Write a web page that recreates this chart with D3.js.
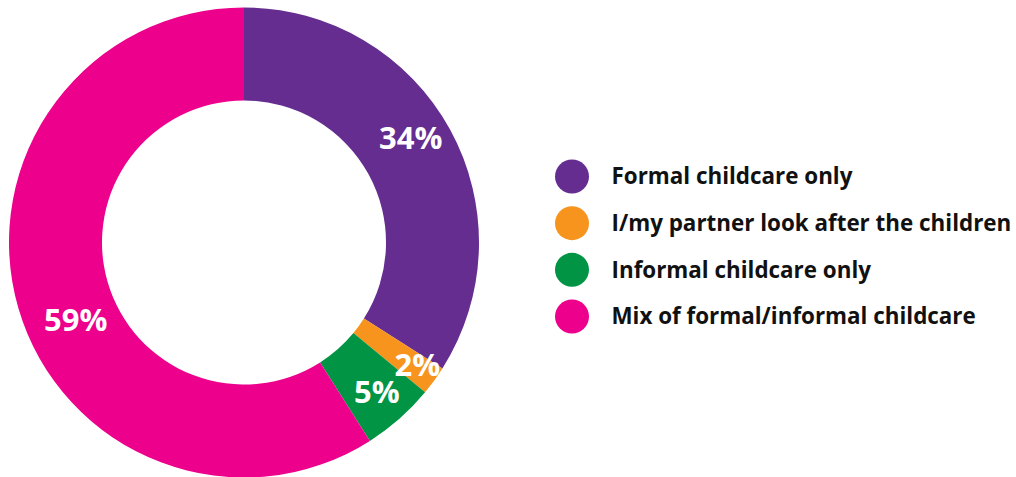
<!DOCTYPE html>
<html>
<head>
<meta charset="utf-8">
<script src="https://cdn.jsdelivr.net/npm/d3@7"></script>
<style>
  html, body { margin: 0; padding: 0; background: #fff; }
  svg { display: block; }
</style>
</head>
<body>
<svg id="chart" width="1016" height="477"></svg>
<script>
// Childcare arrangements, share of respondents (%)
const categories = [
  "Formal childcare only",
  "I/my partner look after the children",
  "Informal childcare only",
  "Mix of formal/informal childcare"
];
const values = [34, 2, 5, 59];
const colors = ["#652d90", "#f7941d", "#009444", "#ec008c"];

const svg = d3.select("#chart");

const cx = 244, cy = 242.5;
const outerR = 235, innerR = 142;

const data = categories.map((c, i) => ({ category: c, value: values[i], color: colors[i] }));

const pie = d3.pie().value(d => d.value).sort(null);
const arcs = pie(data);

const arc = d3.arc().innerRadius(innerR).outerRadius(outerR);

// Hand placement of the percentage labels: radius and a small angular
// nudge (degrees) away from each slice's mid-angle.
const labelPlacement = {
  "Formal childcare only":                { r: 197, shift: -3.4 },
  "I/my partner look after the children": { r: 212, shift: -0.8 },
  "Informal childcare only":              { r: 200, shift: -0.2 },
  "Mix of formal/informal childcare":     { r: 185, shift: -8.4 }
};

function labelPos(d) {
  const p = labelPlacement[d.data.category];
  const a = (d.startAngle + d.endAngle) / 2 + p.shift * Math.PI / 180;
  return [p.r * Math.sin(a), -p.r * Math.cos(a)];
}

const g = svg.append("g").attr("transform", `translate(${cx},${cy})`);

g.selectAll("path.slice")
  .data(arcs)
  .join("path")
  .attr("class", "slice")
  .attr("d", arc)
  .attr("fill", d => d.data.color);

g.selectAll("text.pct")
  .data(arcs)
  .join("text")
  .attr("class", "pct")
  .attr("transform", d => `translate(${labelPos(d)})`)
  .attr("text-anchor", "middle")
  .attr("dy", "0.36em")
  .attr("font-family", "'Open Sans', sans-serif")
  .attr("font-weight", 700)
  .attr("font-size", 31)
  .attr("fill", "#fff")
  .text(d => d.data.value + "%");

// Legend
const legend = svg.append("g").attr("transform", "translate(572,0)");
const legendY = d3.scalePoint().domain(categories).range([176.5, 316.5]);

const items = legend.selectAll("g.item")
  .data(data)
  .join("g")
  .attr("class", "item")
  .attr("transform", d => `translate(0,${legendY(d.category)})`);

items.append("circle")
  .attr("r", 17)
  .attr("fill", d => d.color);

items.append("text")
  .attr("x", 39.5)
  .attr("dy", "0.35em")
  .attr("font-family", "'Open Sans', sans-serif")
  .attr("font-weight", 700)
  .attr("font-size", 22.4)
  .attr("fill", "#111")
  .text(d => d.category);
</script>
</body>
</html>
